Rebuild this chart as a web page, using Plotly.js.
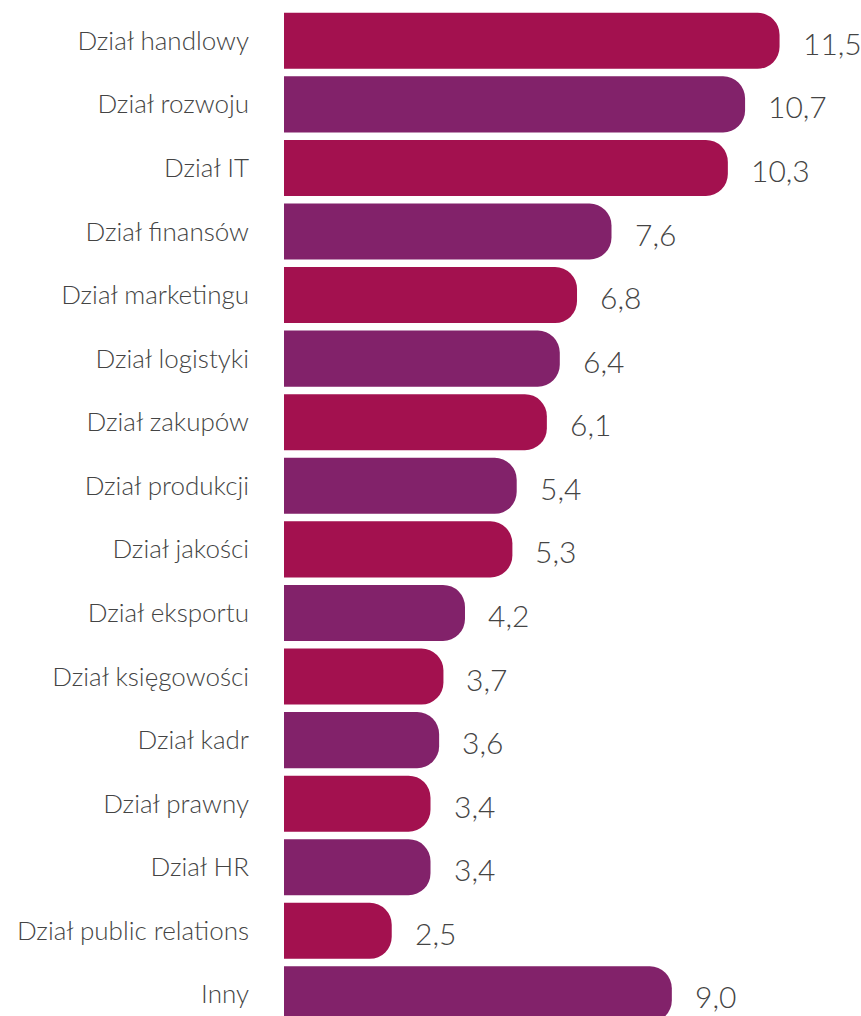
<!DOCTYPE html>
<html>
<head>
<meta charset="utf-8">
<script src="https://cdn.plot.ly/plotly-3.0.1.min.js"></script>
<style>html,body{margin:0;padding:0;background:#fff;}#chart{width:861px;height:1016px;}</style>
</head>
<body>
<div id="chart"></div>
<script>
const categories = [
  "Dział handlowy", "Dział rozwoju", "Dział IT", "Dział finansów", "Dział marketingu",
  "Dział logistyki", "Dział zakupów", "Dział produkcji", "Dział jakości", "Dział eksportu",
  "Dział księgowości", "Dział kadr", "Dział prawny", "Dział HR", "Dział public relations", "Inny"
];
const values = [11.5, 10.7, 10.3, 7.6, 6.8, 6.4, 6.1, 5.4, 5.3, 4.2, 3.7, 3.6, 3.4, 3.4, 2.5, 9.0];
const valueLabels = ["11,5", "10,7", "10,3", "7,6", "6,8", "6,4", "6,1", "5,4", "5,3", "4,2", "3,7", "3,6", "3,4", "3,4", "2,5", "9,0"];
const palette = ["#A3114F", "#82226A"];

const colors = categories.map((c, i) => palette[i % 2]);

const trace = {
  type: "bar",
  orientation: "h",
  x: values,
  y: categories,
  marker: { color: colors, line: { width: 0 } },
  hoverinfo: "none"
};

const annotations = values.map((v, i) => ({
  x: v, y: categories[i], xref: "x", yref: "y",
  text: valueLabels[i], showarrow: false,
  xanchor: "left", yanchor: "middle", xshift: 21, yshift: -2,
  font: { family: "Lato, sans-serif", size: 30, weight: 300, color: "#444444" }
}));

const layout = {
  width: 861, height: 1016,
  margin: { l: 284, r: 0, t: 9, b: 0 },
  paper_bgcolor: "#ffffff", plot_bgcolor: "#ffffff",
  showlegend: false,
  bargap: 0.118,
  barcornerradius: 22,
  xaxis: { range: [0, 13.39], visible: false, fixedrange: true },
  yaxis: {
    type: "category",
    range: [15.34, -0.5],
    showgrid: false, zeroline: false, showline: false,
    ticks: "", ticklabelstandoff: 34,
    tickfont: { family: "Lato, sans-serif", size: 26, weight: 300, color: "#444444" }
  },
  annotations: annotations
};

Plotly.newPlot("chart", [trace], layout, { displayModeBar: false, staticPlot: true });
</script>
</body>
</html>
